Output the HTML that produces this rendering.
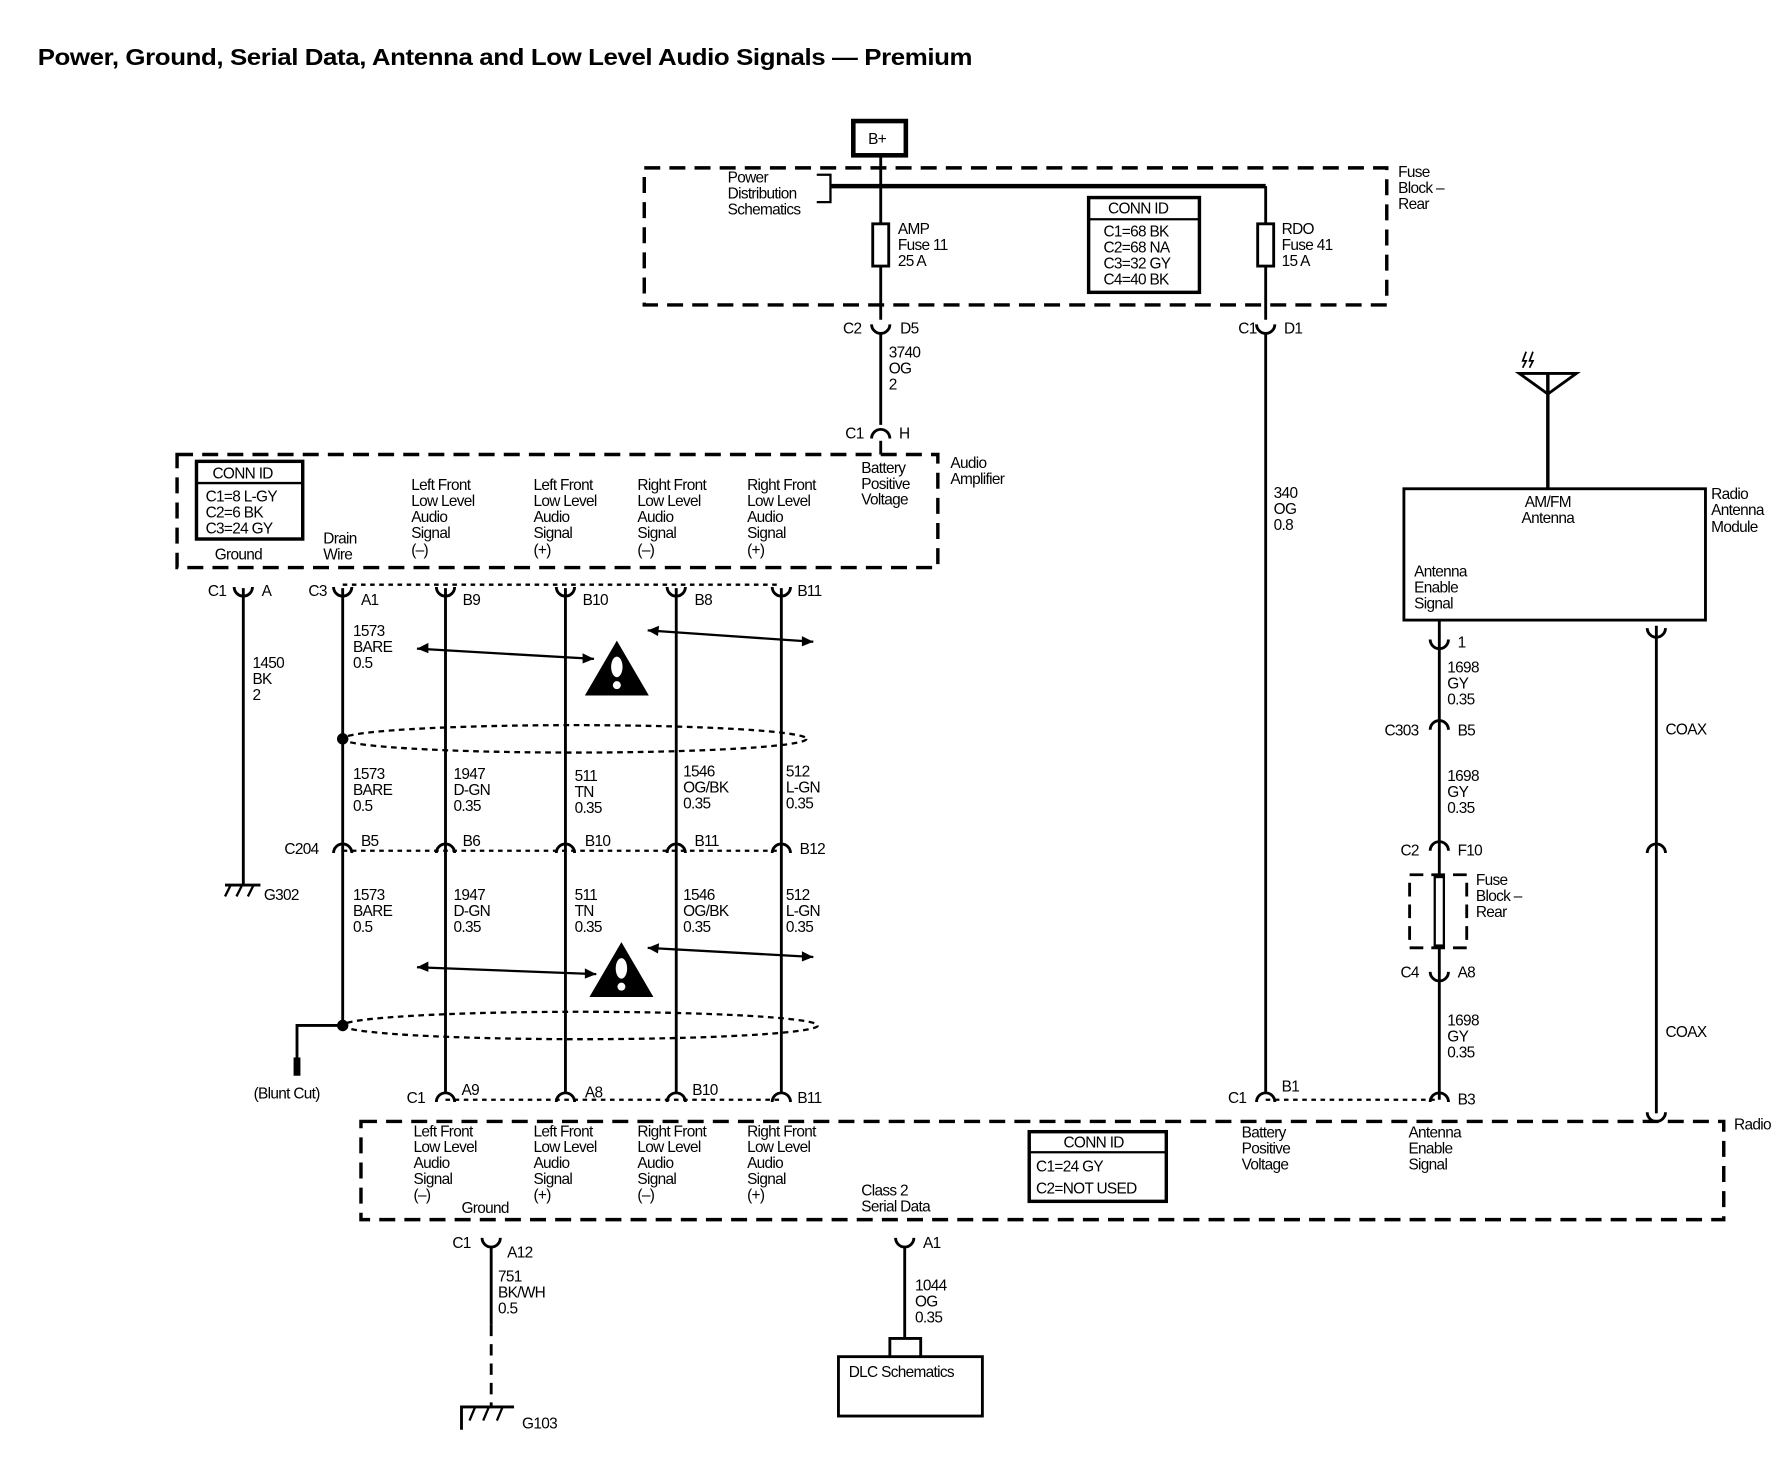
<!DOCTYPE html>
<html><head><meta charset="utf-8"><style>
html,body{margin:0;padding:0;background:#fff}
svg{display:block}
text{font-family:"Liberation Sans",Arial,sans-serif;font-size:13.5px;fill:#000;letter-spacing:-0.6px}
.t{font-weight:bold;font-size:20px;letter-spacing:-0.3px}
</style></head><body>
<svg width="1790" height="1472" viewBox="0 0 1567 1289" preserveAspectRatio="none" xmlns="http://www.w3.org/2000/svg">
<defs>
<path id="cup" d="M-8,-6 A8,8 0 0 0 8,-6" fill="none" stroke="#000" stroke-width="2.5"/>
<path id="arch" d="M-8,6 A8,8 0 0 1 8,6" fill="none" stroke="#000" stroke-width="2.5"/>
</defs>
<text x="33" y="57" class="t" textLength="818" lengthAdjust="spacingAndGlyphs">Power, Ground, Serial Data, Antenna and Low Level Audio Signals — Premium</text>

<g fill="none" stroke="#000">
<rect x="747" y="106" width="46" height="30" stroke-width="4"/>
<rect x="564" y="147" width="650" height="120" stroke-width="3" stroke-dasharray="14 8"/>
<line x1="771" y1="136" x2="771" y2="280" stroke-width="2.5"/>
<line x1="727" y1="163" x2="1108" y2="163" stroke-width="4"/>
<polyline points="715,153 727,153 727,177 715,177" stroke-width="2"/>
<rect x="764" y="196" width="14" height="37" stroke-width="2.5" fill="#fff"/>
<line x1="1108" y1="163" x2="1108" y2="280" stroke-width="2.5"/>
<rect x="1101" y="196" width="14" height="37" stroke-width="2.5" fill="#fff"/>
<rect x="953" y="173" width="97" height="83" stroke-width="3"/>
<line x1="953" y1="192" x2="1050" y2="192" stroke-width="2"/>
<line x1="771" y1="292" x2="771" y2="372" stroke-width="2.5"/>
<line x1="771" y1="386" x2="771" y2="398" stroke-width="2.5"/>
<rect x="155" y="398" width="666" height="99" stroke-width="3" stroke-dasharray="14 8"/>
<rect x="172" y="404" width="93" height="68" stroke-width="3"/>
<line x1="172" y1="423" x2="265" y2="423" stroke-width="2"/>
<line x1="300" y1="512" x2="684" y2="512" stroke-width="2" stroke-dasharray="4 4"/>
<line x1="300" y1="745" x2="684" y2="745" stroke-width="2" stroke-dasharray="4 4"/>
<line x1="390" y1="963" x2="684" y2="963" stroke-width="2" stroke-dasharray="4 4"/>
<line x1="1108" y1="963" x2="1260" y2="963" stroke-width="2" stroke-dasharray="4 4"/>
<line x1="213" y1="515" x2="213" y2="775" stroke-width="2.5"/>
<line x1="300" y1="515" x2="300" y2="898" stroke-width="2.5"/>
<polyline points="300,898 260,898 260,930" stroke-width="2.5"/>
<line x1="260" y1="926" x2="260" y2="942" stroke-width="6"/>
<line x1="390" y1="515" x2="390" y2="958" stroke-width="2.5"/>
<line x1="495" y1="515" x2="495" y2="958" stroke-width="2.5"/>
<line x1="592" y1="515" x2="592" y2="958" stroke-width="2.5"/>
<line x1="684" y1="515" x2="684" y2="958" stroke-width="2.5"/>
<ellipse cx="503" cy="647" rx="203" ry="12" stroke-width="2" stroke-dasharray="5 4"/>
<ellipse cx="508" cy="898" rx="208" ry="12" stroke-width="2" stroke-dasharray="5 4"/>
<line x1="365" y1="568" x2="520" y2="577" stroke-width="2"/>
<line x1="567" y1="552" x2="712" y2="562" stroke-width="2"/>
<line x1="365" y1="847" x2="522" y2="853" stroke-width="2"/>
<line x1="567" y1="830" x2="712" y2="838" stroke-width="2"/>
<line x1="197" y1="775" x2="228" y2="775" stroke-width="2.5"/>
<path d="M202,775 l-5,10 M212,775 l-5,10 M222,775 l-5,10" stroke-width="2"/>
<rect x="316" y="982" width="1193" height="86" stroke-width="3" stroke-dasharray="14 8"/>
<rect x="901" y="991" width="120" height="61" stroke-width="3"/>
<line x1="901" y1="1009" x2="1021" y2="1009" stroke-width="2"/>
<line x1="430" y1="1091" x2="430" y2="1160" stroke-width="2.5"/>
<line x1="430" y1="1160" x2="430" y2="1232" stroke-width="2.5" stroke-dasharray="10 7"/>
<polyline points="404,1252 404,1232 450,1232" stroke-width="2.5"/>
<path d="M416,1232 l-5,12 M428,1232 l-5,12 M440,1232 l-5,12" stroke-width="2"/>
<line x1="792" y1="1091" x2="792" y2="1172" stroke-width="2.5"/>
<polyline points="779,1188 779,1172 806,1172 806,1188" stroke-width="2.5"/>
<rect x="734" y="1188" width="126" height="52" stroke-width="2.5"/>
<line x1="1108" y1="292" x2="1108" y2="958" stroke-width="2.5"/>
<path d="M1330,327 L1380,327 L1355,345 Z M1330,327 L1355,345" stroke-width="2.5"/>
<line x1="1355" y1="327" x2="1355" y2="428" stroke-width="3"/>
<path d="M1333,322 l3,-6 -3,0 3,-8 M1339,322 l3,-6 -3,0 3,-8" stroke-width="1.5"/>
<rect x="1229" y="428" width="264" height="115" stroke-width="2.5"/>
<line x1="1260" y1="543" x2="1260" y2="963" stroke-width="2.5"/>
<rect x="1234" y="766" width="50" height="64" stroke-width="2.5" stroke-dasharray="12 7"/>
<rect x="1256" y="768" width="8" height="60" stroke-width="2" fill="#fff"/>
<line x1="1450" y1="548" x2="1450" y2="975" stroke-width="2.5"/>
</g>

<g fill="#fff">
<use href="#cup" x="771" y="290"/><use href="#arch" x="771" y="378"/>
<use href="#cup" x="1108" y="290"/>
<use href="#cup" x="213" y="520"/><use href="#cup" x="300" y="520"/><use href="#cup" x="390" y="520"/><use href="#cup" x="495" y="520"/><use href="#cup" x="592" y="520"/><use href="#cup" x="684" y="520"/>
<use href="#arch" x="300" y="741"/><use href="#arch" x="390" y="741"/><use href="#arch" x="495" y="741"/><use href="#arch" x="592" y="741"/><use href="#arch" x="684" y="741"/>
<use href="#arch" x="390" y="959"/><use href="#arch" x="495" y="959"/><use href="#arch" x="592" y="959"/><use href="#arch" x="684" y="959"/>
<use href="#arch" x="1108" y="959"/><use href="#arch" x="1260" y="959"/>
<use href="#cup" x="430" y="1090"/><use href="#cup" x="792" y="1090"/>
<use href="#cup" x="1260" y="566"/><use href="#arch" x="1260" y="633"/><use href="#arch" x="1260" y="739"/><use href="#cup" x="1260" y="857"/>
<use href="#cup" x="1450" y="556"/><use href="#arch" x="1450" y="741"/><use href="#cup" x="1450" y="980"/>
</g>
<circle cx="300" cy="647" r="5"/><circle cx="300" cy="898" r="5"/>
<path d="M365,568 l10,-5 0,9z M520,577 l-10,-5 0,9z M567,552 l10,-4 -1,9z M712,562 l-10,-5 0,9z M365,847 l10,-5 0,9z M522,853 l-10,-5 0,9z M567,830 l10,-4 -1,9z M712,838 l-10,-5 0,9z"/>
<path d="M512,609 L568,609 L540,561 Z M516,873 L572,873 L544,825 Z"/>
<g fill="#fff"><ellipse cx="540" cy="584" rx="5" ry="9"/><circle cx="540" cy="600" r="3.5"/><ellipse cx="544" cy="848" rx="5" ry="9"/><circle cx="544" cy="864" r="3.5"/></g>

<text x="760" y="126">B+</text>
<text x="637" y="160">Power</text><text x="637" y="174">Distribution</text><text x="637" y="188">Schematics</text>
<text x="786" y="205">AMP</text><text x="786" y="219">Fuse 11</text><text x="786" y="233">25 A</text>
<text x="1122" y="205">RDO</text><text x="1122" y="219">Fuse 41</text><text x="1122" y="233">15 A</text>
<text x="970" y="187">CONN ID</text><text x="966" y="207">C1=68 BK</text><text x="966" y="221">C2=68 NA</text><text x="966" y="235">C3=32 GY</text><text x="966" y="249">C4=40 BK</text>
<text x="1224" y="155">Fuse</text><text x="1224" y="169">Block –</text><text x="1224" y="183">Rear</text>
<text x="738" y="292">C2</text><text x="788" y="292">D5</text>
<text x="778" y="313">3740</text><text x="778" y="327">OG</text><text x="778" y="341">2</text>
<text x="740" y="384">C1</text><text x="787" y="384">H</text>
<text x="832" y="410">Audio</text><text x="832" y="424">Amplifier</text>
<text x="186" y="419">CONN ID</text><text x="180" y="439">C1=8 L-GY</text><text x="180" y="453">C2=6 BK</text><text x="180" y="467">C3=24 GY</text>
<text x="188" y="490">Ground</text><text x="283" y="476">Drain</text><text x="283" y="490">Wire</text>
<text x="754" y="414">Battery</text><text x="754" y="428">Positive</text><text x="754" y="442">Voltage</text>
<g>
<text x="360" y="429">Left Front</text><text x="360" y="443">Low Level</text><text x="360" y="457">Audio</text><text x="360" y="471">Signal</text><text x="360" y="486">(–)</text>
<text x="467" y="429">Left Front</text><text x="467" y="443">Low Level</text><text x="467" y="457">Audio</text><text x="467" y="471">Signal</text><text x="467" y="486">(+)</text>
<text x="558" y="429">Right Front</text><text x="558" y="443">Low Level</text><text x="558" y="457">Audio</text><text x="558" y="471">Signal</text><text x="558" y="486">(–)</text>
<text x="654" y="429">Right Front</text><text x="654" y="443">Low Level</text><text x="654" y="457">Audio</text><text x="654" y="471">Signal</text><text x="654" y="486">(+)</text>
</g>
<text x="182" y="522">C1</text><text x="229" y="522">A</text><text x="270" y="522">C3</text><text x="316" y="530">A1</text>
<text x="405" y="530">B9</text><text x="510" y="530">B10</text><text x="608" y="530">B8</text><text x="698" y="522">B11</text>
<text x="221" y="585">1450</text><text x="221" y="599">BK</text><text x="221" y="613">2</text>
<text x="309" y="557">1573</text><text x="309" y="571">BARE</text><text x="309" y="585">0.5</text>
<text x="309" y="682">1573</text><text x="309" y="696">BARE</text><text x="309" y="710">0.5</text>
<text x="397" y="682">1947</text><text x="397" y="696">D-GN</text><text x="397" y="710">0.35</text>
<text x="503" y="684">511</text><text x="503" y="698">TN</text><text x="503" y="712">0.35</text>
<text x="598" y="680">1546</text><text x="598" y="694">OG/BK</text><text x="598" y="708">0.35</text>
<text x="688" y="680">512</text><text x="688" y="694">L-GN</text><text x="688" y="708">0.35</text>
<text x="249" y="748">C204</text><text x="316" y="741">B5</text><text x="405" y="741">B6</text><text x="512" y="741">B10</text><text x="608" y="741">B11</text><text x="700" y="748">B12</text>
<text x="309" y="788">1573</text><text x="309" y="802">BARE</text><text x="309" y="816">0.5</text>
<text x="397" y="788">1947</text><text x="397" y="802">D-GN</text><text x="397" y="816">0.35</text>
<text x="503" y="788">511</text><text x="503" y="802">TN</text><text x="503" y="816">0.35</text>
<text x="598" y="788">1546</text><text x="598" y="802">OG/BK</text><text x="598" y="816">0.35</text>
<text x="688" y="788">512</text><text x="688" y="802">L-GN</text><text x="688" y="816">0.35</text>
<text x="231" y="788">G302</text>
<text x="222" y="962">(Blunt Cut)</text>
<text x="356" y="966">C1</text><text x="404" y="959">A9</text><text x="512" y="961">A8</text><text x="606" y="959">B10</text><text x="698" y="966">B11</text>
<text x="1518" y="989">Radio</text>
<g>
<text x="362" y="995">Left Front</text><text x="362" y="1009">Low Level</text><text x="362" y="1023">Audio</text><text x="362" y="1037">Signal</text><text x="362" y="1051">(–)</text>
<text x="467" y="995">Left Front</text><text x="467" y="1009">Low Level</text><text x="467" y="1023">Audio</text><text x="467" y="1037">Signal</text><text x="467" y="1051">(+)</text>
<text x="558" y="995">Right Front</text><text x="558" y="1009">Low Level</text><text x="558" y="1023">Audio</text><text x="558" y="1037">Signal</text><text x="558" y="1051">(–)</text>
<text x="654" y="995">Right Front</text><text x="654" y="1009">Low Level</text><text x="654" y="1023">Audio</text><text x="654" y="1037">Signal</text><text x="654" y="1051">(+)</text>
</g>
<text x="404" y="1062">Ground</text><text x="754" y="1047">Class 2</text><text x="754" y="1061">Serial Data</text>
<text x="931" y="1005">CONN ID</text><text x="907" y="1026">C1=24 GY</text><text x="907" y="1045">C2=NOT USED</text>
<text x="1087" y="996">Battery</text><text x="1087" y="1010">Positive</text><text x="1087" y="1024">Voltage</text>
<text x="1233" y="996">Antenna</text><text x="1233" y="1010">Enable</text><text x="1233" y="1024">Signal</text>
<text x="1075" y="966">C1</text><text x="1122" y="956">B1</text><text x="1276" y="967">B3</text>
<text x="396" y="1093">C1</text><text x="444" y="1101">A12</text><text x="808" y="1093">A1</text>
<text x="436" y="1122">751</text><text x="436" y="1136">BK/WH</text><text x="436" y="1150">0.5</text>
<text x="801" y="1130">1044</text><text x="801" y="1144">OG</text><text x="801" y="1158">0.35</text>
<text x="457" y="1251">G103</text><text x="743" y="1206">DLC Schematics</text>
<text x="1115" y="436">340</text><text x="1115" y="450">OG</text><text x="1115" y="464">0.8</text>
<text x="1084" y="292">C1</text><text x="1124" y="292">D1</text>
<text x="1355" y="444" text-anchor="middle">AM/FM</text><text x="1355" y="458" text-anchor="middle">Antenna</text>
<text x="1238" y="505">Antenna</text><text x="1238" y="519">Enable</text><text x="1238" y="533">Signal</text>
<text x="1498" y="437">Radio</text><text x="1498" y="451">Antenna</text><text x="1498" y="466">Module</text>
<text x="1276" y="567">1</text>
<text x="1267" y="589">1698</text><text x="1267" y="603">GY</text><text x="1267" y="617">0.35</text>
<text x="1212" y="644">C303</text><text x="1276" y="644">B5</text>
<text x="1267" y="684">1698</text><text x="1267" y="698">GY</text><text x="1267" y="712">0.35</text>
<text x="1226" y="749">C2</text><text x="1276" y="749">F10</text>
<text x="1292" y="775">Fuse</text><text x="1292" y="789">Block –</text><text x="1292" y="803">Rear</text>
<text x="1226" y="856">C4</text><text x="1276" y="856">A8</text>
<text x="1267" y="898">1698</text><text x="1267" y="912">GY</text><text x="1267" y="926">0.35</text>
<text x="1458" y="643">COAX</text><text x="1458" y="908">COAX</text>
</svg>
</body></html>
